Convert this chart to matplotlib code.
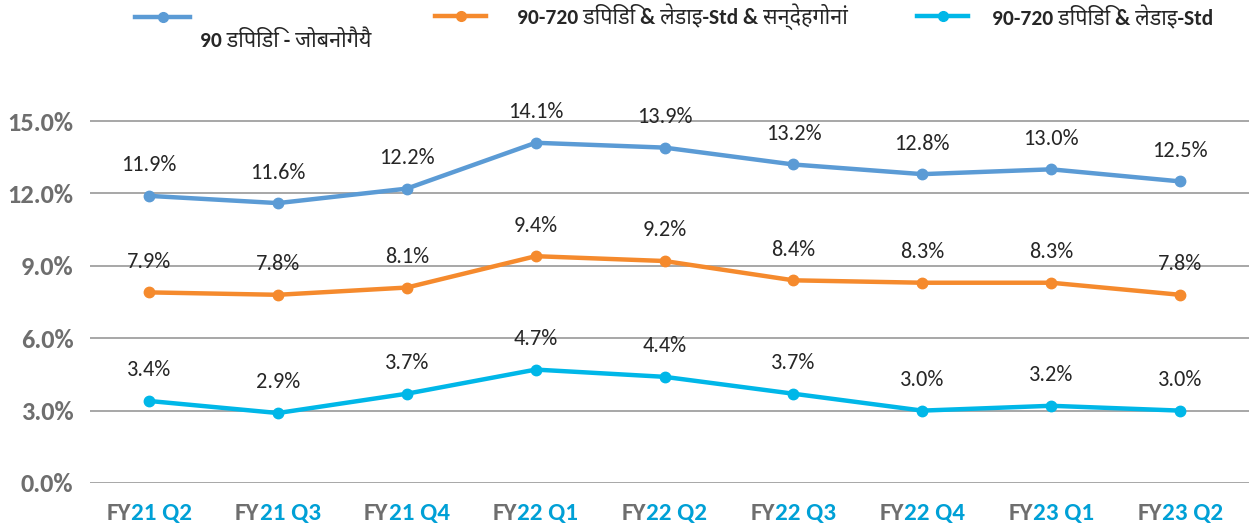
import matplotlib
matplotlib.use("Agg")
import matplotlib.pyplot as plt
from matplotlib.lines import Line2D

# data
fy = ["21", "21", "21", "22", "22", "22", "22", "23", "23"]
qtr = ["Q2", "Q3", "Q4", "Q1", "Q2", "Q3", "Q4", "Q1", "Q2"]
dpd90 = [11.9, 11.6, 12.2, 14.1, 13.9, 13.2, 12.8, 13.0, 12.5]
dpd_std_res = [7.9, 7.8, 8.1, 9.4, 9.2, 8.4, 8.3, 8.3, 7.8]
dpd_std = [3.4, 2.9, 3.7, 4.7, 4.4, 3.7, 3.0, 3.2, 3.0]
names = ["90 डिपिडि - जोबनोगैयै",
         "90-720 डिपिडि & लेडाइ-Std & सन्देहगोनां",
         "90-720 डिपिडि & लेडाइ-Std"]
colors = ["#5B9BD5", "#F58A2D", "#00B7E8"]
yticks = [0, 3, 6, 9, 12, 15]

FONT = ["Carlito", "Noto Sans Devanagari", "DejaVu Sans"]
plt.rcParams["font.family"] = FONT

W, H = 1249, 529
fig = plt.figure(figsize=(W / 100, H / 100), dpi=100)
ax = fig.add_axes([90 / W, 46 / H, (W - 90) / W, 374 / H])

x = list(range(len(qtr)))
for vals, c in zip([dpd90, dpd_std_res, dpd_std], colors):
    ax.plot(x, vals, color=c, lw=3.2, marker="o", ms=7.5, solid_capstyle="round")
    for xi, v in zip(x, vals):
        ax.annotate(f"{v:.1f}%", (xi, v), xytext=(0, 22), textcoords="offset points",
                    ha="center", va="center", fontsize=16, color="#262626")

ax.set_ylim(0, 15.5)
ax.set_xlim(-0.458, 8.535)
ax.set_yticks(yticks)
ax.set_yticklabels([f"{t:.1f}%" for t in yticks], fontsize=19, fontweight="bold", color="#6E6E6E")
ax.set_xticks(x)
ax.set_xticklabels([])
ax.tick_params(length=0, pad=12)
ax.grid(axis="y", color="#A0A0A0", lw=1.3)
ax.set_axisbelow(True)
for s in ax.spines.values():
    s.set_visible(False)

# two-colour category labels
for xi, f, q in zip(x, fy, qtr):
    full = ax.annotate(f"FY{f} {q}", (xi, 0), xytext=(0, -22), textcoords="offset points",
                       ha="center", va="center", fontsize=18, fontweight="bold", alpha=0)
    t1 = ax.annotate("FY", xy=(0, 0.5), xycoords=full, ha="left", va="center",
                     fontsize=18, fontweight="bold", color="#6E6E6E")
    ax.annotate(f"{f} {q}", xy=(1, 0.5), xycoords=t1, ha="left", va="center",
                fontsize=18, fontweight="bold", color="#00A0D6")

# legend across the top
leg = [(135, 190, 17, 200, 41), (435, 486, 16, 517, 17), (917, 968, 16, 992, 17)]
for (x0, x1, yl, xt, yt), c, n in zip(leg, colors, names):
    fig.add_artist(Line2D([x0 / W, x1 / W], [1 - yl / H, 1 - yl / H], color=c, lw=3.2,
                          transform=fig.transFigure))
    fig.add_artist(Line2D([(x0 + x1) / 2 / W], [1 - yl / H], color=c, marker="o", ms=7,
                          transform=fig.transFigure))
    fig.text(xt / W, 1 - yt / H, n, ha="left", va="center", fontsize=15.5,
             fontweight="bold", color="#262626")

fig.savefig("out.png", dpi=100)
